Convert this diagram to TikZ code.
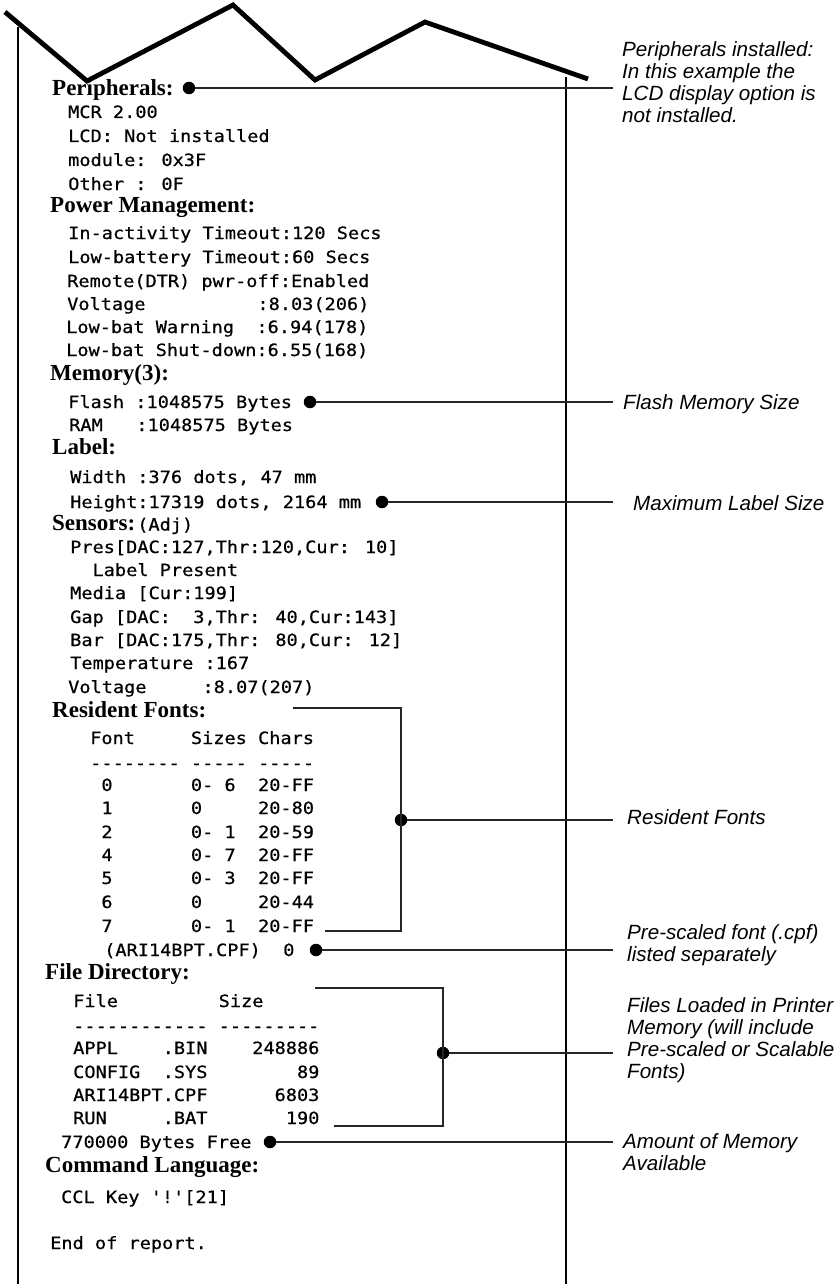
\documentclass[tikz,border=0pt]{standalone}
\usepackage{fontspec}
\newfontfamily\prt[FakeStretch=1.1,FakeBold=0.6,WordSpace={1,0,0},Ligatures=TeXOff]{DejaVu Sans Mono}
\newfontfamily\hdr{Liberation Serif}
\newfontfamily\ann{Liberation Sans}
\newcommand{\mono}{\prt\mdseries\fontsize{16.9}{18}\selectfont}
\usetikzlibrary{positioning}
\tikzset{
    renglon/.style={anchor=base west,inner sep=0pt,font=\mono},
    titulo/.style={anchor=base west,inner sep=0pt,font=\hdr\bfseries\fontsize{23}{25}\selectfont},
    nota/.style={anchor=north west,inner sep=0pt,align=left,font=\ann\itshape\fontsize{20.6}{22}\selectfont,execute at begin node={\rule{0pt}{16pt}}},
    punto/.style={circle,fill,inner sep=0pt,minimum size=12.5pt},
    guia/.style={draw,line width=1.2pt,black!85},
    papel/.style={draw,line width=2.2pt},
    corte/.style={draw,line width=4.8pt,line join=miter},
}
\begin{document}
\begin{tikzpicture}[x=1pt,y=-1pt]
    \useasboundingbox (0,0) rectangle (833,1284);
    \path [corte] (5,12) -- (87,81) -- (233,5) -- (315,80) -- (425,22) -- (588,79);
    \path [papel] (18,27) -- (18,1284);
    \path [papel] (566,77) -- (566,1284);

    \node [titulo] (per) at (52,95.5) {Peripherals:};
    \node [renglon] (mcr) at (68,118) {MCR 2.00};
    \node [renglon] (lcd) at (68,142) {LCD: Not installed};
    \node [renglon] (modu) at (68,166) {module: 0x3F};
    \node [renglon] (oth) at (68,190) {Other : 0F};
    \node [titulo] (pwr) at (50,212.5) {Power Management:};
    \node [renglon] (inact) at (68,239) {In-activity Timeout:120 Secs};
    \node [renglon] (lowb) at (68,263) {Low-battery Timeout:60 Secs};
    \node [renglon] (remo) at (67,287) {Remote(DTR) pwr-off:Enabled};
    \node [renglon] (volt) at (67,310) {Voltage~~~~~~~~~~:8.03(206)};
    \node [renglon] (warn) at (66,333) {Low-bat Warning~~:6.94(178)};
    \node [renglon] (shut) at (66,356) {Low-bat Shut-down:6.55(168)};
    \node [titulo] (mem) at (50,380.5) {Memory(3):};
    \node [renglon] (fla) at (68,408) {Flash :1048575 Bytes};
    \node [renglon] (ram) at (69,431) {RAM~~~:1048575 Bytes};
    \node [titulo] (lab) at (52,454.5) {Label:};
    \node [renglon] (wid) at (70,483) {Width :376 dots, 47 mm};
    \node [renglon] (hei) at (70,508) {Height:17319 dots, 2164 mm};
    \node [titulo] (sen) at (52,530.5) {Sensors:\hspace{2pt}{\mono (Adj)}};
    \node [renglon] (pres) at (70,553) {Pres[DAC:127,Thr:120,Cur: 10]};
    \node [renglon] (lpres) at (70,576) {~~Label Present};
    \node [renglon] (media) at (70,599) {Media [Cur:199]};
    \node [renglon] (gap) at (70,623) {Gap [DAC:~~3,Thr: 40,Cur:143]};
    \node [renglon] (bar) at (70,646) {Bar [DAC:175,Thr: 80,Cur: 12]};
    \node [renglon] (temp) at (70,669) {Temperature :167};
    \node [renglon] (volt2) at (68,693) {Voltage~~~~~:8.07(207)};
    \node [titulo] (res) at (52,717.5) {Resident Fonts:};
    \node [renglon] (fhead) at (90,744) {Font~~~~~Sizes Chars};
    \node [renglon] (fdash) at (90,769) {--------~-----~-----};
    \node [renglon] (f0) at (90,791) {~0~~~~~~~0-~6~~20-FF};
    \node [renglon] (f1) at (90,814) {~1~~~~~~~0~~~~~20-80};
    \node [renglon] (f2) at (90,838) {~2~~~~~~~0-~1~~20-59};
    \node [renglon] (f4) at (90,861) {~4~~~~~~~0-~7~~20-FF};
    \node [renglon] (f5) at (90,884) {~5~~~~~~~0-~3~~20-FF};
    \node [renglon] (f6) at (90,908) {~6~~~~~~~0~~~~~20-44};
    \node [renglon] (f7) at (90,932) {~7~~~~~~~0-~1~~20-FF};
    \node [renglon] (ari) at (104,956) {(ARI14BPT.CPF)~~0};
    \node [titulo] (dir) at (45,979.5) {File Directory:};
    \node [renglon] (dhead) at (73,1007) {File~~~~~~~~~Size};
    \node [renglon] (ddash) at (73,1032) {------------~---------};
    \node [renglon] (appl) at (73,1054) {APPL~~~~.BIN~~~~248886};
    \node [renglon] (conf) at (73,1078) {CONFIG~~.SYS~~~~~~~~89};
    \node [renglon] (arif) at (73,1101) {ARI14BPT.CPF~~~~~~6803};
    \node [renglon] (run) at (73,1124) {RUN~~~~~.BAT~~~~~~~190};
    \node [renglon] (free) at (61,1148) {770000 Bytes Free};
    \node [titulo] (cmd) at (45,1172.5) {Command Language:};
    \node [renglon] (ccl) at (61,1203) {CCL Key {\char"27}!{\char"27}[21]};
    \node [renglon] (fin) at (50,1249) {End of report.};

    \node [punto] (pper) at (189,88) {};
    \node [punto] (pfla) at (310,402) {};
    \node [punto] (phei) at (382,502) {};
    \node [punto] (pres) at (401,820) {};
    \node [punto] (pari) at (316,950) {};
    \node [punto] (pdir) at (443,1053) {};
    \node [punto] (pfree) at (270,1142) {};

    \coordinate (rtop) at (293,708);
    \coordinate (rbot) at (325,931);
    \coordinate (ftop) at (315,988);
    \coordinate (fbot) at (334,1126);
    \path [guia] (rtop) -| (pres.center) |- (rbot);
    \path [guia] (ftop) -| (pdir.center) |- (fbot);

    \coordinate (eper) at (613,88);
    \coordinate (efla) at (613,402);
    \coordinate (ehei) at (613,502);
    \coordinate (eres) at (613,820);
    \coordinate (eari) at (613,950);
    \coordinate (edir) at (613,1053);
    \coordinate (efree) at (613,1142);
    \path [guia] (pper) -- (eper);
    \path [guia] (pfla) -- (efla);
    \path [guia] (phei) -- (ehei);
    \path [guia] (pres) -- (eres);
    \path [guia] (pari) -- (eari);
    \path [guia] (pdir) -- (edir);
    \path [guia] (pfree) -- (efree);

    \node [nota] (nper) at (622,41) {Peripherals installed:\\In this example the\\LCD display option is\\not installed.};
    \node [nota] (nfla) at (623,393) {Flash Memory Size};
    \node [nota] (nhei) at (633,494) {Maximum Label Size};
    \node [nota] (nres) at (627,808) {Resident Fonts};
    \node [nota] (nari) at (627,924) {Pre-scaled font (.cpf)\\listed separately};
    \node [nota] (ndir) at (627,997) {Files Loaded in Printer\\Memory (will include\\Pre-scaled or Scalable\\Fonts)};
    \node [nota] (nfree) at (623,1133) {Amount of Memory\\Available};
\end{tikzpicture}
\end{document}
